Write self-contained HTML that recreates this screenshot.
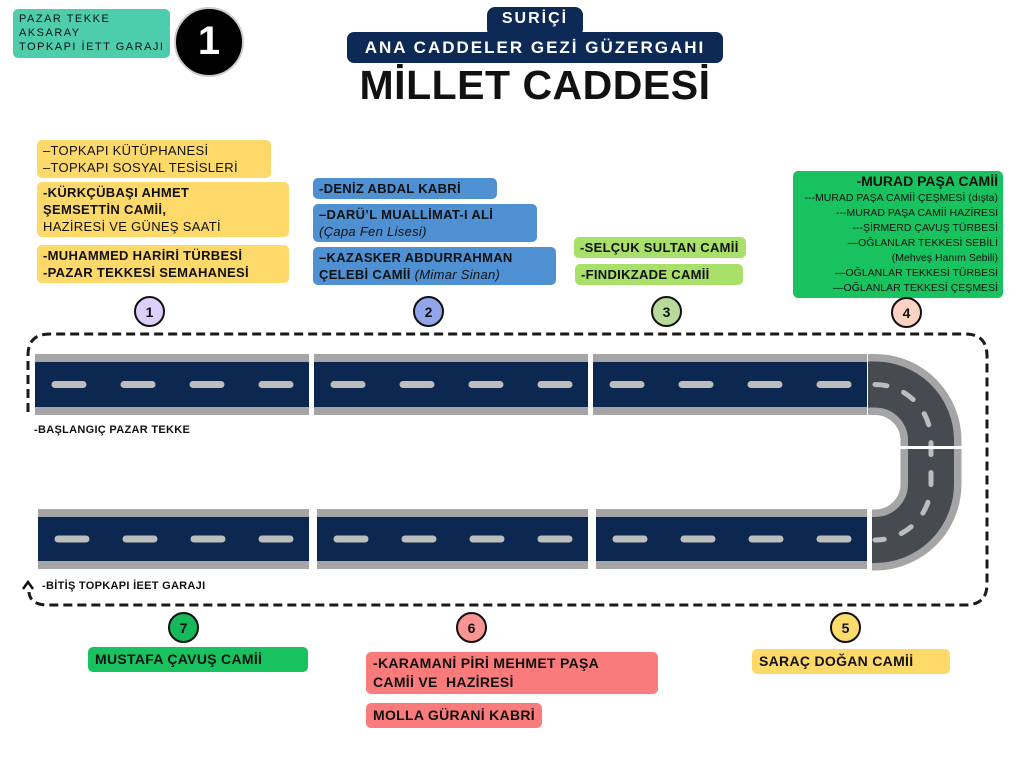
<!DOCTYPE html>
<html><head><meta charset="utf-8"><style>
body{margin:0;width:1024px;height:768px;background:#fff;position:relative;overflow:hidden;font-family:"Liberation Sans","DejaVu Sans",sans-serif;color:#111}
.a{position:absolute}
.tag{position:absolute;border-radius:5px;padding:2px 6px;font-size:13px;line-height:17px;white-space:nowrap;letter-spacing:0.3px}
.b{font-weight:bold}
.c{position:absolute;width:31px;height:31px;border-radius:50%;border:2px solid #111;box-sizing:border-box;text-align:center;line-height:28px;font-weight:bold;font-size:14px}
.y{background:#fdd96a}.bl{background:#4f90d3}.g{background:#a8e06a}.gr{background:#17c25f}.r{background:#fa7b7b}
</style></head><body>
<div class="tag" style="left:13px;top:9px;background:#4ecdad;font-size:11px;line-height:14px;letter-spacing:1.5px;padding:3px 6px 4px">PAZAR TEKKE<br>AKSARAY<br>TOPKAPI İETT GARAJI</div>
<div class="a" style="left:174px;top:7px;width:70px;height:70px;border-radius:50%;background:#000;border:2px solid #ccc;box-sizing:border-box;color:#fff;font-weight:bold;font-size:40px;text-align:center;line-height:64px">1</div>

<div class="a" style="left:487px;top:7px;width:96px;height:30px;background:#0c2a55;border-radius:8px"></div>
<div class="a" style="left:347px;top:32px;width:376px;height:31px;background:#0c2a55;border-radius:7px"></div>
<div class="a" style="left:487px;top:10px;width:96px;text-align:center;color:#fff;font-weight:bold;font-size:16px;letter-spacing:2px">SURİÇİ</div>
<div class="a" style="left:347px;top:38px;width:376px;text-align:center;color:#fff;font-weight:bold;font-size:17px;letter-spacing:2px">ANA CADDELER GEZİ GÜZERGAHI</div>
<div class="a" style="left:340px;top:62px;width:390px;text-align:center;font-weight:bold;font-size:41px;letter-spacing:0.5px;color:#111">MİLLET CADDESİ</div>

<div class="tag y" style="left:37px;top:140px;width:222px;padding:2px 6px">–TOPKAPI KÜTÜPHANESİ<br>–TOPKAPI SOSYAL TESİSLERİ</div>
<div class="tag y b" style="left:37px;top:182px;width:240px">-KÜRKÇÜBAŞI AHMET<br>ŞEMSETTİN CAMİİ,<br><span style="font-weight:normal">HAZİRESİ VE GÜNEŞ SAATİ</span></div>
<div class="tag y b" style="left:37px;top:245px;width:240px">-MUHAMMED HARİRİ TÜRBESİ<br>-PAZAR TEKKESİ SEMAHANESİ</div>

<div class="tag bl b" style="left:313px;top:178px;width:172px">-DENİZ ABDAL KABRİ</div>
<div class="tag bl b" style="left:313px;top:204px;width:212px">–DARÜ’L MUALLİMAT-I ALİ<br><i style="font-weight:normal">(Çapa Fen Lisesi)</i></div>
<div class="tag bl b" style="left:313px;top:247px;width:231px">–KAZASKER ABDURRAHMAN<br>ÇELEBİ CAMİİ <i style="font-weight:normal">(Mimar Sinan)</i></div>

<div class="tag g b" style="left:574px;top:237px;width:160px">-SELÇUK SULTAN CAMİİ</div>
<div class="tag g b" style="left:575px;top:264px;width:156px">-FINDIKZADE CAMİİ</div>

<div class="tag gr" style="left:793px;top:171px;width:200px;text-align:right;font-size:10.5px;line-height:15px;letter-spacing:0;padding:2px 5px"><b style="font-size:14px;line-height:17px">-MURAD PAŞA CAMİİ</b><br>---MURAD PAŞA CAMİİ ÇEŞMESİ (dışta)<br>---MURAD PAŞA CAMİİ HAZİRESİ<br>---ŞİRMERD ÇAVUŞ TÜRBESİ<br>—OĞLANLAR TEKKESİ SEBİLİ<br>(Mehveş Hanım Sebili)<br>—OĞLANLAR TEKKESİ TÜRBESİ<br>—OĞLANLAR TEKKESİ ÇEŞMESİ</div>

<div class="c" style="left:134px;top:296px;background:#dccff8">1</div>
<div class="c" style="left:413px;top:296px;background:#8fa7ea">2</div>
<div class="c" style="left:651px;top:296px;background:#b9da9a">3</div>
<div class="c" style="left:891px;top:297px;background:#fbd2c3">4</div>
<div class="c" style="left:830px;top:612px;background:#fddc6b">5</div>
<div class="c" style="left:456px;top:612px;background:#fa9393">6</div>
<div class="c" style="left:168px;top:612px;background:#16b85a">7</div>

<svg class="a" style="left:0;top:0" width="1024" height="768">
<path d="M28,412 V355 Q28,334 50,334 H965 Q987,334 987,356 V584 Q987,605 965,605 H48 Q30,605 29,592" fill="none" stroke="#1a1a1a" stroke-width="3" stroke-dasharray="9 5"/>
<path d="M23,589 L28,582 L33,589" fill="none" stroke="#111" stroke-width="2.5"/>
<g>
<rect x="35" y="354" width="274" height="61" fill="#a5a5a5"/><rect x="35" y="362" width="274" height="45" fill="#0c2750"/>
<rect x="314" y="354" width="274" height="61" fill="#a5a5a5"/><rect x="314" y="362" width="274" height="45" fill="#0c2750"/>
<rect x="593" y="354" width="274" height="61" fill="#a5a5a5"/><rect x="593" y="362" width="274" height="45" fill="#0c2750"/>
<rect x="38" y="509" width="271" height="60" fill="#a5a5a5"/><rect x="38" y="517" width="271" height="44" fill="#0c2750"/>
<rect x="317" y="509" width="271" height="60" fill="#a5a5a5"/><rect x="317" y="517" width="271" height="44" fill="#0c2750"/>
<rect x="596" y="509" width="271" height="60" fill="#a5a5a5"/><rect x="596" y="517" width="271" height="44" fill="#0c2750"/>
<g stroke="#bdbdbd" stroke-width="7" stroke-linecap="round">
<path d="M55,384.5h28M124,384.5h28M193,384.5h28M262,384.5h28M334,384.5h28M403,384.5h28M472,384.5h28M541,384.5h28M613,384.5h28M682,384.5h28M751,384.5h28M820,384.5h28"/>
<path d="M58,539h28M126,539h28M194,539h28M262,539h28M337,539h28M405,539h28M473,539h28M541,539h28M616,539h28M684,539h28M752,539h28M820,539h28"/>
</g>
<path d="M868,384.5 H875 A56,56 0 0 1 931,440 V484 A56,56 0 0 1 875,540 H871" fill="none" stroke="#a5a5a5" stroke-width="61"/>
<path d="M868,384.5 H875 A56,56 0 0 1 931,440 V484 A56,56 0 0 1 875,540 H871" fill="none" stroke="#464a51" stroke-width="46"/>
<path d="M875,384.5 A56,56 0 0 1 931,440 V484 A56,56 0 0 1 875,540" fill="none" stroke="#bdbdbd" stroke-width="5" stroke-linecap="round" stroke-dasharray="12 18"/>
<rect x="867" y="446" width="100" height="3" fill="#fff"/>
<rect x="869" y="505" width="3" height="70" fill="#fff"/>
</svg>

<div class="a b" style="left:34px;top:424px;font-size:11px;letter-spacing:0.3px">-BAŞLANGIÇ PAZAR TEKKE</div>
<div class="a b" style="left:42px;top:580px;font-size:11px;letter-spacing:0.3px">-BİTİŞ TOPKAPI İEET GARAJI</div>

<div class="tag gr b" style="left:88px;top:647px;width:206px;font-size:14px;padding:4px 7px">MUSTAFA ÇAVUŞ CAMİİ</div>
<div class="tag r b" style="left:366px;top:652px;width:278px;font-size:14px;line-height:19px;padding:2px 7px">-KARAMANİ PİRİ MEHMET PAŞA<br>CAMİİ VE&nbsp; HAZİRESİ</div>
<div class="tag r b" style="left:366px;top:703px;width:162px;font-size:14px;padding:4px 7px">MOLLA GÜRANİ KABRİ</div>
<div class="tag y b" style="left:752px;top:649px;width:184px;font-size:14px;padding:4px 7px">SARAÇ DOĞAN CAMİİ</div>
</body></html>
